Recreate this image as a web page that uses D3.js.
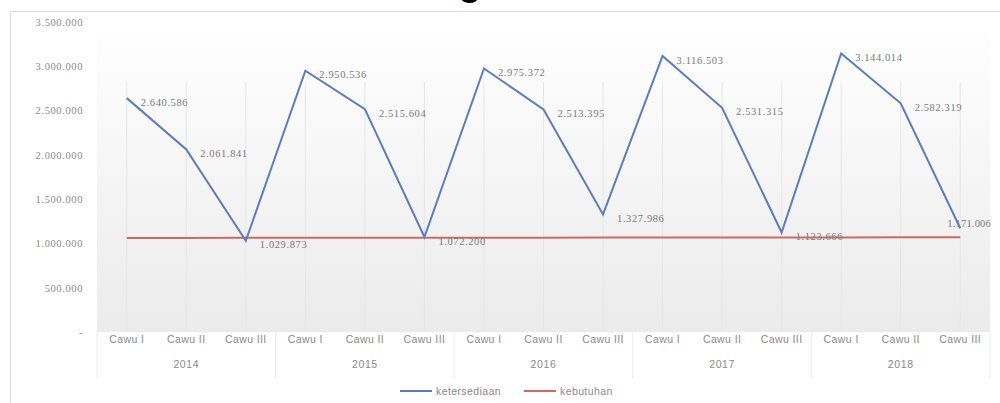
<!DOCTYPE html>
<html><head><meta charset="utf-8">
<script src="https://cdn.jsdelivr.net/npm/d3@7"></script>
<style>
html,body{margin:0;padding:0;background:#fff;}
svg{display:block;font-family:"Liberation Sans",Arial,sans-serif;}
</style></head>
<body>
<svg id="c" width="1000" height="403"></svg>
<script>
const years = ["2014","2015","2016","2017","2018"];
const periods = ["Cawu I","Cawu II","Cawu III"];
const ketersediaan = [2640586,2061841,1029873,2950536,2515604,1072200,2975372,2513395,1327986,3116503,2531315,1123666,3144014,2582319,1171006];
const kebutuhan = [1062000,1062500,1063000,1063500,1064000,1064500,1065000,1065500,1066000,1066500,1067000,1067500,1068000,1068500,1069000];
const yTicks = [0,500000,1000000,1500000,2000000,2500000,3000000,3500000];
const seriesNames = ["ketersediaan","kebutuhan"];
const colors = ["#5b7dbd","#cf6a63"];

const svg = d3.select("#c");
const plot = {x0:97, x1:990, y0:22, y1:332};

svg.append("line").attr("x1",10).attr("x2",1000).attr("y1",11.5).attr("y2",11.5).attr("stroke","#d9d9d9");
svg.append("line").attr("x1",10.5).attr("x2",10.5).attr("y1",11).attr("y2",403).attr("stroke","#d9d9d9");

const title = svg.append("text").attr("y",-5).attr("font-size",38).attr("font-weight","bold")
  .attr("fill","#000").text("Neraca Pangan");
{
  const node = title.node();
  const s = node.textContent;
  const gi = s.indexOf("g");
  const before = node.getSubStringLength(0,gi);
  const gw = node.getSubStringLength(gi,1);
  title.attr("x", 470 - before - gw/2);
}

const defs = svg.append("defs");
const grad = defs.append("linearGradient").attr("id","bg").attr("x1",0).attr("x2",0).attr("y1",0).attr("y2",1);
grad.append("stop").attr("offset","0%").attr("stop-color","#ffffff");
grad.append("stop").attr("offset","100%").attr("stop-color","#ebebeb");

const cats = [];
years.forEach(y => periods.forEach(p => cats.push(y+"|"+p)));

const x = d3.scaleBand().domain(cats).range([plot.x0, plot.x1]);
const y = d3.scaleLinear().domain([0,3500000]).range([plot.y1, plot.y0]);
const cx = i => x(cats[i]) + x.bandwidth()/2;

svg.append("rect").attr("x",plot.x0).attr("y",plot.y0).attr("width",plot.x1-plot.x0).attr("height",plot.y1-plot.y0).attr("fill","url(#bg)");

svg.append("g").selectAll("line").data(cats).join("line")
  .attr("x1",(d,i)=>cx(i)).attr("x2",(d,i)=>cx(i))
  .attr("y1",plot.y0+60).attr("y2",plot.y1).attr("stroke","#e6e6e6").attr("stroke-width",1);

const fmt = v => v===0 ? "-" : d3.format(",")(v).replace(/,/g,".");
const yAxis = d3.axisLeft(y).tickValues(yTicks).tickFormat(fmt).tickSize(0).tickPadding(0);
const ya = svg.append("g").attr("transform","translate(83,0)").call(yAxis);
ya.select(".domain").remove();
ya.selectAll("text").attr("font-size",10.5).attr("fill","#8a8a8a").attr("letter-spacing",0.6)
  .attr("font-family","'Liberation Serif',serif");

const xa = d3.axisBottom(x).tickFormat(d=>d.split("|")[1]).tickSize(0).tickPadding(0);
const xg = svg.append("g").attr("transform","translate(0,342)").call(xa);
xg.select(".domain").remove();
xg.selectAll("text").attr("font-size",10.5).attr("fill","#8a8a8a").attr("letter-spacing",0.4).attr("dy","0.1em");

const yearX = yr => x(yr+"|Cawu II") + x.bandwidth()/2;
svg.append("g").selectAll("text").data(years).join("text")
  .attr("x",yearX).attr("y",368).attr("text-anchor","middle").attr("font-size",10.5).attr("fill","#8a8a8a").attr("letter-spacing",0.6)
  .text(d=>d);
const bounds = years.map(yr=>x(yr+"|Cawu I")).concat([plot.x1]);
svg.append("g").selectAll("line").data(bounds).join("line")
  .attr("x1",d=>d).attr("x2",d=>d).attr("y1",plot.y1).attr("y2",378).attr("stroke","#ececec");

const line = d3.line().x((d,i)=>cx(i)).y(d=>y(d));
svg.append("path").datum(kebutuhan).attr("d",line).attr("fill","none").attr("stroke",colors[1]).attr("stroke-width",2);
svg.append("path").datum(ketersediaan).attr("d",line).attr("fill","none").attr("stroke",colors[0]).attr("stroke-width",2);

const last = ketersediaan.length - 1;
svg.append("g").selectAll("text").data(ketersediaan).join("text")
  .attr("x",(d,i)=> i===last ? cx(i)-13 : cx(i)+14)
  .attr("y",(d,i)=> i===last ? y(d)-5 : y(d)+4)
  .attr("dy","0.35em").attr("font-size",10.5).attr("fill","#7a7a7a").attr("letter-spacing",(d,i)=> i===last ? 0.2 : 0.6)
  .attr("font-family","'Liberation Serif',serif")
  .text(d=>fmt(d));

const lg = svg.append("g");
const legendItems = [{x:400,name:seriesNames[0],c:colors[0]},{x:524,name:seriesNames[1],c:colors[1]}];
legendItems.forEach(it=>{
  lg.append("line").attr("x1",it.x).attr("x2",it.x+32).attr("y1",391).attr("y2",391).attr("stroke",it.c).attr("stroke-width",2);
  lg.append("text").attr("x",it.x+36).attr("y",391).attr("dy","0.35em").attr("font-size",10.5).attr("fill","#8a8a8a").attr("letter-spacing",0.4).text(it.name);
});
</script>
</body></html>
